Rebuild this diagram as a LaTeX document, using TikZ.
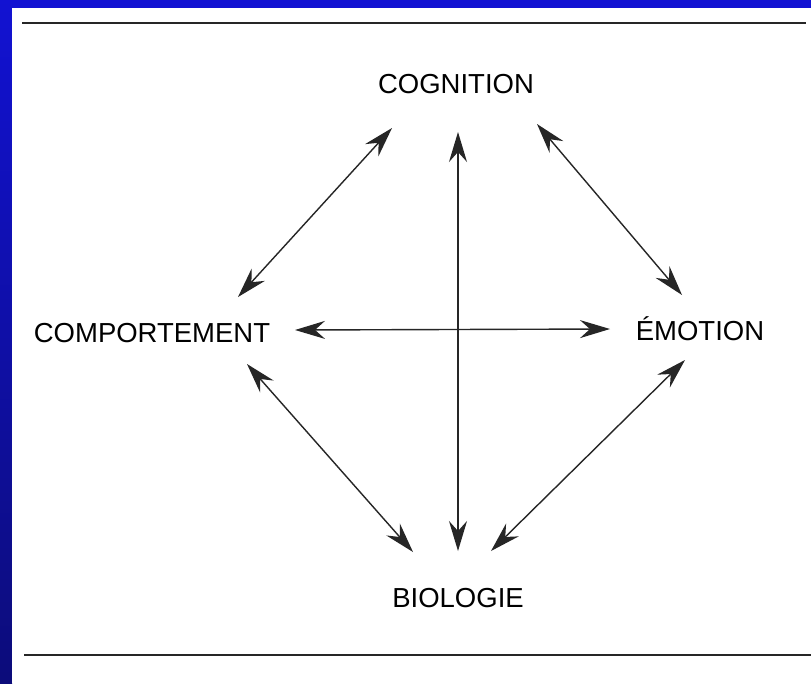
\documentclass[tikz,border=0pt]{standalone}
\usepackage{fontspec}
\setmainfont{Liberation Sans}
\usetikzlibrary{arrows.meta}
\definecolor{slideblue}{HTML}{1212D2}
\definecolor{slidenavy}{HTML}{0C0C7A}
\begin{document}
\begin{tikzpicture}[x=1pt, y=-1pt,
    >={Stealth[length=30pt, width=18pt, inset=10pt]},
    mot/.style={font=\fontsize{27.5}{30}\selectfont, inner sep=0pt, anchor=base},
    fleche/.style={<->, line width=1.4pt, black!85}]
    % Fond de la diapositive
    \fill[slideblue] (0,0) rectangle (811,683);
    \shade[top color=slideblue, bottom color=slidenavy] (0,0) rectangle (12,683);
    \fill[white] (12,8) rectangle (811,683);
    \useasboundingbox (0,0) rectangle (811,683);
    
    % Filets haut et bas
    \draw[line width=2.8pt, black!85] (22,23) -- (806,23);
    \draw[line width=2.8pt, black!85] (24,655) -- (811,655);
    
    % Les quatre pôles
    \node[mot] (cog) at (456,93) {COGNITION};
    \node[mot] (comp) at (152,342) {COMPORTEMENT};
    \node[mot] (emo) at (700,340) {ÉMOTION};
    \node[mot] (bio) at (458,607) {BIOLOGIE};
    
    % Extrémités des flèches
    \coordinate (cogA) at (392,128);  \coordinate (compA) at (238,297);
    \coordinate (cogB) at (458,132);  \coordinate (bioB) at (458,551);
    \coordinate (cogC) at (537,124);  \coordinate (emoC) at (682,295);
    \coordinate (compD) at (295,330); \coordinate (emoD) at (610,329);
    \coordinate (compE) at (247,364); \coordinate (bioE) at (413,552);
    \coordinate (emoF) at (685,360);  \coordinate (bioF) at (491,551);
    
    % Interactions
    \draw[fleche] (cogA) -- (compA);
    \draw[fleche] (cogB) -- (bioB);
    \draw[fleche] (cogC) -- (emoC);
    \draw[fleche] (compD) -- (emoD);
    \draw[fleche] (compE) -- (bioE);
    \draw[fleche] (emoF) -- (bioF);
\end{tikzpicture}
\end{document}
